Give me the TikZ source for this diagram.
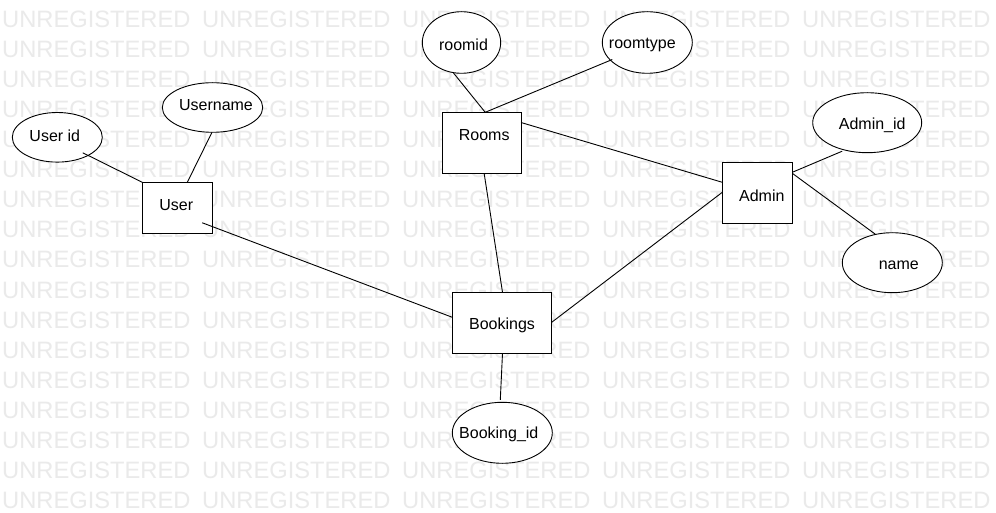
\documentclass[tikz,border=0pt]{standalone}
\usepackage{fontspec}
\setmainfont{Liberation Sans}
\usetikzlibrary{shapes.geometric,calc}
\definecolor{wm}{RGB}{234,234,234}
\tikzset{
  ent/.style={draw, fill=white, line width=0.9pt, rectangle, inner sep=0pt},
  attr/.style={draw, fill=white, line width=0.9pt, ellipse, inner sep=0pt},
  lbl/.style={font=\fontsize{16}{18}\selectfont, inner sep=0pt, anchor=center},
  conn/.style={line width=0.9pt},
  wmark/.style={text=wm, font=\fontsize{23.7}{26}\selectfont, inner sep=0pt, anchor=base west}
}
\begin{document}
\begin{tikzpicture}[x=1pt,y=-1pt]
\useasboundingbox[fill=white] (0,0) rectangle (996,513);
% watermark
\foreach \r in {0,...,16}{
  \foreach \c in {0,...,4}{
    \node[wmark] (wm-\r-\c) at ({2+200*\c},{28+30*\r}) {UNREGISTERED};
  }
}
% entities
\node[ent, minimum width=70pt, minimum height=51pt] (user) at (177.3,207.8) {};
\node[ent, minimum width=78.7pt, minimum height=61.4pt] (rooms) at (481.7,143) {};
\node[ent, minimum width=70pt, minimum height=61pt] (admin) at (757.3,192.8) {};
\node[ent, minimum width=99.4pt, minimum height=61pt] (bookings) at (502,322.8) {};
% attributes
\node[attr, minimum width=90pt, minimum height=49.6pt] (uid) at (57.3,137.3) {};
\node[attr, minimum width=100.4pt, minimum height=49.6pt] (uname) at (212.5,107.5) {};
\node[attr, minimum width=78.4pt, minimum height=61.6pt] (roomid) at (461.5,42.5) {};
\node[attr, minimum width=90pt, minimum height=61.6pt] (roomtype) at (647.3,42.5) {};
\node[attr, minimum width=109pt, minimum height=60pt] (adminid) at (867.2,122.7) {};
\node[attr, minimum width=100pt, minimum height=60pt] (name) at (892.3,262.7) {};
\node[attr, minimum width=100pt, minimum height=61pt] (bookingid) at (502.3,432.8) {};
% texts
\node[lbl] (t-user) at ($(user)+(-1,-3)$) {User};
\node[lbl] (t-rooms) at ($(rooms)+(2.5,-7.5)$) {Rooms};
\node[lbl] (t-admin) at ($(admin)+(4.5,3)$) {Admin};
\node[lbl] (t-bookings) at ($(bookings)+(0,3)$) {Bookings};
\node[lbl] (t-uid) at ($(uid)+(-2.5,-1.5)$) {User id};
\node[lbl] (t-uname) at ($(uname)+(3.5,-2)$) {Username};
\node[lbl] (t-roomid) at ($(roomid)+(2,2.5)$) {roomid};
\node[lbl] (t-roomtype) at ($(roomtype)+(-5,2.5)$) {roomtype};
\node[lbl] (t-adminid) at ($(adminid)+(5,2.5)$) {Admin\_id};
\node[lbl] (t-name) at ($(name)+(6.5,3)$) {name};
\node[lbl] (t-bookingid) at ($(bookingid)+(-3.5,2)$) {Booking\_id};
% connectors
\draw[conn] ($(uid)+(25.5,15.5)$) -- ($(user)+(-35,-25.5)$);
\draw[conn] ($(uname)+(-0.5,24.8)$) -- ($(user)+(10,-25.5)$);
\draw[conn] ($(user)+(25,15)$) -- ($(bookings)+(-49.7,-5.5)$);
\draw[conn] ($(roomid)+(-8,30.5)$) -- ($(rooms)+(3.5,-30.7)$);
\draw[conn] ($(roomtype)+(-35,17)$) -- ($(rooms)+(3.5,-30.7)$);
\draw[conn] ($(rooms)+(39.3,-20.5)$) -- ($(admin)+(-35,-10.5)$);
\draw[conn] ($(rooms)+(2.5,30.7)$) -- ($(bookings)+(0.5,-30.5)$);
\draw[conn] ($(bookings)+(49.7,-0.5)$) -- ($(admin)+(-35,-0.5)$);
\draw[conn] ($(bookings)+(0.5,30.5)$) -- ($(bookingid)+(-2,-33)$);
\draw[conn] ($(admin)+(35,-20.5)$) -- ($(adminid)+(-25,28.5)$);
\draw[conn] ($(admin)+(35,-19.5)$) -- ($(name)+(-17,-28.5)$);
\end{tikzpicture}
\end{document}
